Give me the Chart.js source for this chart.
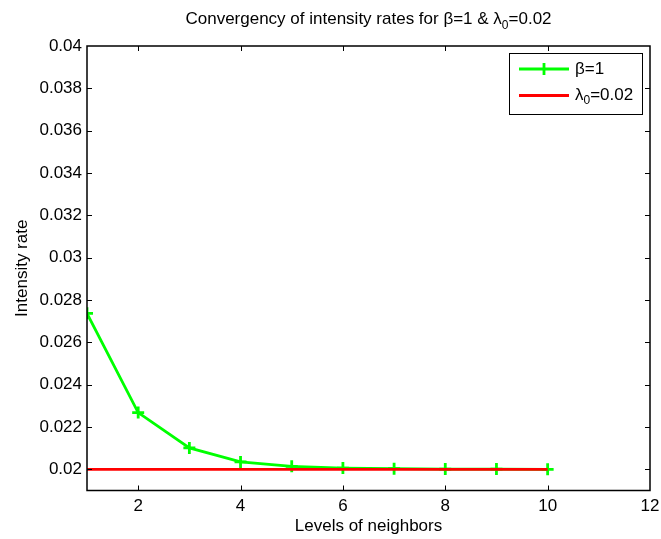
<!DOCTYPE html>
<html>
<head>
<meta charset="utf-8">
<title>Intensity rate convergency</title>
<script src="https://cdn.jsdelivr.net/npm/chart.js@4.4.1/dist/chart.umd.min.js"></script>
<style>
  html, body { margin: 0; padding: 0; background: #fff; }
  #wrap { position: relative; width: 661px; height: 539px; }
</style>
</head>
<body>
<div id="wrap"><canvas id="rateChart" width="661" height="539"></canvas></div>
<script>
// levels of neighbors and the intensity rate reached at each level
const levels = [1, 2, 3, 4, 5, 6, 7, 8, 9, 10];
const betaRates = [0.02737, 0.02268, 0.02101, 0.02035, 0.02014, 0.02006, 0.02003, 0.02001, 0.02001, 0.02000];
const lambdaRates = [0.02, 0.02, 0.02, 0.02, 0.02, 0.02, 0.02, 0.02, 0.02, 0.02];

// axis ticks
const xTicks = [2, 4, 6, 8, 10, 12];
const yTicks = [0.02, 0.022, 0.024, 0.026, 0.028, 0.03, 0.032, 0.034, 0.036, 0.038, 0.04];

const FONT = '"Liberation Sans", Arial, Helvetica, sans-serif';
Chart.defaults.font.family = FONT;
Chart.defaults.font.size = 17;
Chart.defaults.color = '#000';

// text with a subscript part: [[text, isSub], ...]
function drawRich(ctx, parts, x, y, size) {
  let cx = x;
  parts.forEach(([txt, sub]) => {
    ctx.font = (sub ? Math.round(size * 0.72) : size) + 'px ' + FONT;
    ctx.fillText(txt, cx, sub ? y + size * 0.3 : y);
    cx += ctx.measureText(txt).width;
  });
}
function richWidth(ctx, parts, size) {
  return parts.reduce((w, [txt, sub]) => {
    ctx.font = (sub ? Math.round(size * 0.72) : size) + 'px ' + FONT;
    return w + ctx.measureText(txt).width;
  }, 0);
}

const titleParts = [['Convergency of intensity rates for \u03b2=1 & \u03bb', false], ['0', true], ['=0.02', false]];
const legendParts = [
  [['\u03b2=1', false]],
  [['\u03bb', false], ['0', true], ['=0.02', false]]
];

// box around the axes with inward tick marks on all four sides
const axesFrame = {
  id: 'axesFrame',
  afterDatasetsDraw(chart) {
    const { ctx, chartArea: a, scales } = chart;
    ctx.save();
    ctx.strokeStyle = '#000';
    ctx.lineWidth = 1;
    ctx.beginPath();
    scales.x.ticks.forEach(t => {
      const px = Math.round(scales.x.getPixelForValue(t.value)) + 0.5;
      if (px < a.left + 1 || px > a.right - 1) return;
      ctx.moveTo(px, a.bottom); ctx.lineTo(px, a.bottom - 5);
      ctx.moveTo(px, a.top); ctx.lineTo(px, a.top + 5);
    });
    scales.y.ticks.forEach(t => {
      const py = Math.round(scales.y.getPixelForValue(t.value)) + 0.5;
      if (py < a.top + 1 || py > a.bottom - 1) return;
      ctx.moveTo(a.left, py); ctx.lineTo(a.left + 5, py);
      ctx.moveTo(a.right, py); ctx.lineTo(a.right - 5, py);
    });
    ctx.stroke();
    ctx.lineWidth = 1.5;
    ctx.strokeRect(a.left, a.top, a.right - a.left, a.bottom - a.top);
    ctx.restore();
  }
};

// title with subscript, centred over the plot area
const richTitle = {
  id: 'richTitle',
  afterDraw(chart) {
    const { ctx, chartArea: a } = chart;
    ctx.save();
    ctx.fillStyle = '#000';
    ctx.textBaseline = 'alphabetic';
    const w = richWidth(ctx, titleParts, 17);
    drawRich(ctx, titleParts, (a.left + a.right) / 2 - w / 2, 24, 17);
    ctx.restore();
  }
};

// legend box in the upper right corner
const boxLegend = {
  id: 'boxLegend',
  afterDraw(chart) {
    const { ctx, chartArea: a } = chart;
    const boxW = 133, boxH = 61;
    const bx = a.right - 8 - boxW, by = a.top + 7;
    ctx.save();
    ctx.fillStyle = '#fff';
    ctx.fillRect(bx, by, boxW, boxH);
    ctx.strokeStyle = '#000';
    ctx.lineWidth = 1;
    ctx.strokeRect(bx + 0.5, by + 0.5, boxW, boxH);
    chart.data.datasets.forEach((ds, i) => {
      const ly = by + 16 + i * 26.5;
      ctx.strokeStyle = ds.borderColor;
      ctx.lineWidth = ds.borderWidth;
      ctx.beginPath();
      ctx.moveTo(bx + 10, ly); ctx.lineTo(bx + 60, ly);
      ctx.stroke();
      if (ds.pointStyle === 'cross') {
        ctx.lineWidth = ds.pointBorderWidth;
        ctx.beginPath();
        ctx.moveTo(bx + 35, ly - ds.pointRadius); ctx.lineTo(bx + 35, ly + ds.pointRadius);
        ctx.stroke();
      }
      ctx.fillStyle = '#000';
      ctx.textBaseline = 'middle';
      drawRich(ctx, legendParts[i], bx + 66, ly, 17);
    });
    ctx.restore();
  }
};

const ctx = document.getElementById('rateChart').getContext('2d');
new Chart(ctx, {
  type: 'line',
  data: {
    datasets: [
      {
        label: '\u03b2=1',
        data: levels.map((x, i) => ({ x, y: betaRates[i] })),
        borderColor: '#00ff00',
        backgroundColor: '#00ff00',
        borderWidth: 2.8,
        pointStyle: 'cross',
        pointRadius: 6,
        pointBorderWidth: 2.8,
        pointBorderColor: '#00ff00',
        tension: 0,
        order: 1
      },
      {
        label: '\u03bb0=0.02',
        data: levels.map((x, i) => ({ x, y: lambdaRates[i] })),
        borderColor: '#ff0000',
        backgroundColor: '#ff0000',
        borderWidth: 2.8,
        pointRadius: 0,
        tension: 0,
        order: 0
      }
    ]
  },
  options: {
    responsive: false,
    animation: false,
    layout: { padding: { top: 46, right: 11, left: 0, bottom: 0 } },
    plugins: {
      legend: { display: false },
      title: { display: false },
      tooltip: { enabled: false }
    },
    scales: {
      x: {
        type: 'linear',
        min: 1,
        max: 12,
        grid: { display: false, drawTicks: false },
        border: { display: false },
        ticks: { padding: 6, maxRotation: 0 },
        afterBuildTicks: scale => { scale.ticks = xTicks.map(v => ({ value: v })); },
        afterFit: scale => {
          scale.height = 48.5;
          scale.paddingLeft = 0;
          scale.paddingRight = 0;
        },
        title: { display: true, text: 'Levels of neighbors', padding: { top: 0, bottom: 2 } }
      },
      y: {
        min: 0.019,
        max: 0.04,
        grid: { display: false, drawTicks: false },
        border: { display: false },
        ticks: {
          padding: 5,
          callback: v => String(Number(v.toFixed(3)))
        },
        afterBuildTicks: scale => { scale.ticks = yTicks.map(v => ({ value: v })); },
        afterFit: scale => {
          scale.width = 87;
          scale.paddingTop = 0;
          scale.paddingBottom = 0;
        },
        title: { display: true, text: 'Intensity rate', padding: { top: 12, bottom: 0 } }
      }
    }
  },
  plugins: [axesFrame, richTitle, boxLegend]
});
</script>
</body>
</html>
